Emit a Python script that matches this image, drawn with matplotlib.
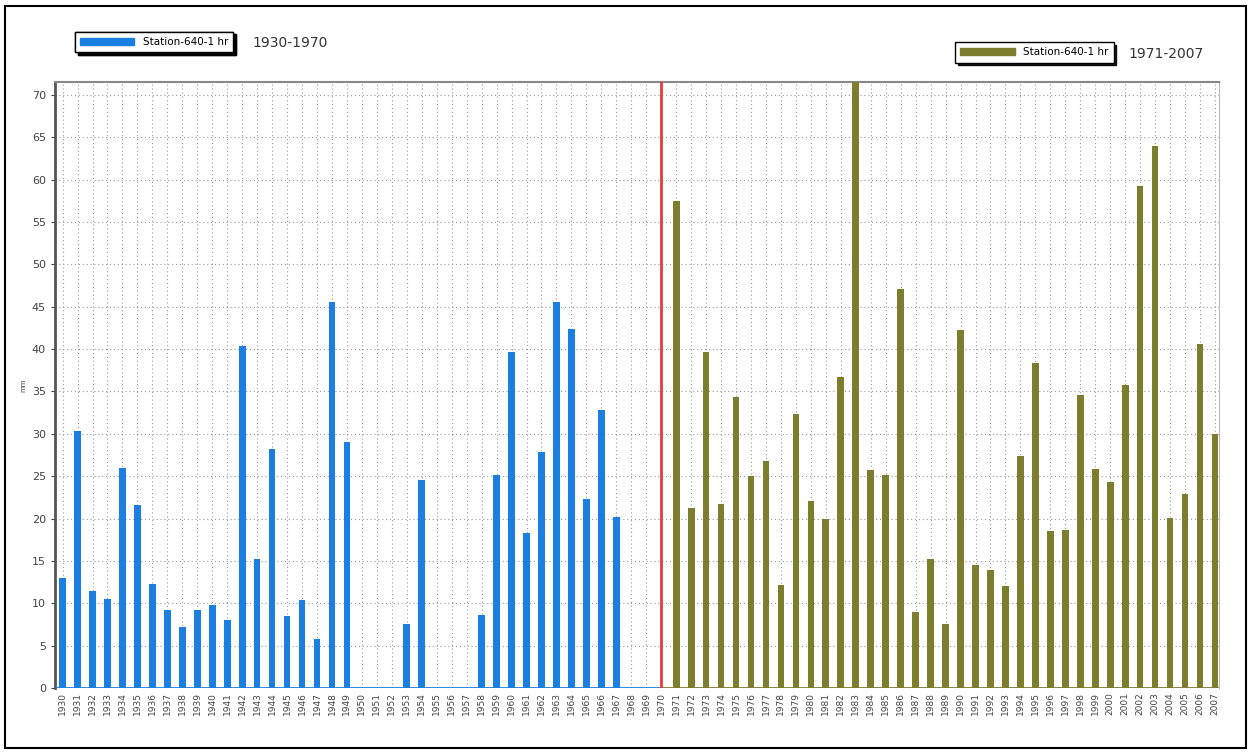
import matplotlib.pyplot as plt
from matplotlib.patches import Patch, Rectangle

# annual max 1-hr rainfall, Station-640
years = list(range(1930, 2008))
early = [13.0, 30.3, 11.4, 10.5, 26.0, 21.6, 12.3, 9.2, 7.2, 9.2,
         9.8, 8.0, 40.4, 15.2, 28.2, 8.5, 10.4, 5.8, 45.5, 29.0,
         0, 0, 0, 7.5, 24.6, 0, 0, 0, 8.6, 25.1,
         39.7, 18.3, 27.8, 45.5, 42.4, 22.3, 32.8, 20.2, 0, 0, 0]
late = [57.5, 21.2, 39.7, 21.7, 34.4, 25.0, 26.8, 12.2, 32.3, 22.1,
        20.0, 36.7, 72.0, 25.7, 25.1, 47.1, 9.0, 15.2, 7.6, 42.3,
        14.5, 13.9, 12.0, 27.4, 38.3, 18.5, 18.6, 34.6, 25.9, 24.3,
        35.8, 59.2, 64.0, 20.1, 22.9, 40.6, 30.0]
split_year = 1970
blue = '#1a7fe0'
olive = '#7d7d2e'

fig = plt.figure(figsize=(12.52, 7.54), dpi=100)
ax = fig.add_axes([0.044, 0.0875, 0.93, 0.8035])

x_early = list(range(len(early)))
x_late = list(range(len(early), len(years)))
ax.bar(x_early, early, width=0.45, color=blue, zorder=3)
ax.bar(x_late, late, width=0.45, color=olive, zorder=3)
ax.hlines(0, -0.5, len(early) - 1, color=blue, lw=2, zorder=4)
ax.hlines(0, len(early) - 1, len(years) - 0.7, color=olive, lw=2, zorder=4)

# red split line
ax.axvline(years.index(split_year), color='#e83a3a', lw=2, zorder=4)

ax.set_xlim(-0.5, len(years) - 0.7)
ax.set_ylim(0, 71.5)
ax.set_yticks(range(0, 71, 5))
ax.set_xticks(range(len(years)))
ax.set_xticklabels([str(y) for y in years], rotation=90, fontsize=6.5, color='#444444')
ax.tick_params(axis='y', labelsize=8, colors='#444444', length=3)
ax.tick_params(axis='x', length=0, pad=3)
ax.grid(True, linestyle=(0, (1, 2.5)), color='#999999', lw=0.8, zorder=0)
ax.set_axisbelow(True)
ax.set_ylabel('mm', fontsize=5, color='#444444', labelpad=4)

ax.spines['left'].set_color('#555555')
ax.spines['left'].set_linewidth(2)
ax.spines['top'].set_color('#888888')
ax.spines['top'].set_linewidth(1.5)
ax.spines['right'].set_color('#bbbbbb')
ax.spines['bottom'].set_visible(False)

# two legends at the top
shadow = {'facecolor': 'black', 'edgecolor': 'black', 'alpha': 0.9}
leg_kw = dict(loc='upper left', fontsize=7.5, frameon=True, fancybox=False,
              shadow=shadow, edgecolor='black', handlelength=5.2,
              handleheight=0.6, borderpad=0.5, handletextpad=0.8,
              borderaxespad=0)
leg1 = fig.legend(handles=[Patch(color=blue, label='Station-640-1 hr')],
                  bbox_to_anchor=(0.060, 0.958), **leg_kw)
fig.add_artist(leg1)
fig.legend(handles=[Patch(color=olive, label='Station-640-1 hr')],
           bbox_to_anchor=(0.763, 0.944), **leg_kw)
fig.text(0.202, 0.943, '1930-1970', fontsize=10, color='#333333', va='center')
fig.text(0.901, 0.929, '1971-2007', fontsize=10, color='#333333', va='center')

# outer frame
fig.patches.append(Rectangle((0.004, 0.008), 0.991, 0.984, transform=fig.transFigure,
                             fill=False, edgecolor='black', lw=1.5))

fig.savefig('out.png', dpi=100)
